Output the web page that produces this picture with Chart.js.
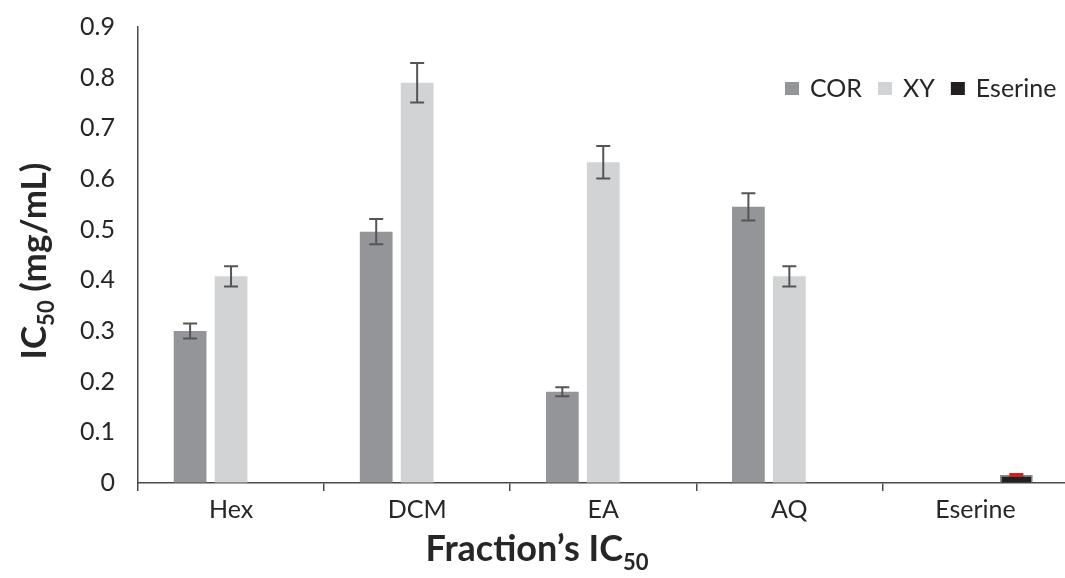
<!DOCTYPE html>
<html>
<head>
<meta charset="utf-8">
<script src="https://cdn.jsdelivr.net/npm/chart.js@4.4.1/dist/chart.umd.min.js"></script>
<style>
  html, body { margin: 0; padding: 0; background: #fff; overflow: hidden; }
  #wrap { width: 1070px; height: 578px; position: relative; }
</style>
</head>
<body>
<div id="wrap"><canvas id="ic50-chart"></canvas></div>
<script>
const categories = ['Hex', 'DCM', 'EA', 'AQ', 'Eserine'];
const corValues = [0.30, 0.496, 0.18, 0.545, null];
const xyValues = [0.408, 0.79, 0.633, 0.408, null];
const eserineValues = [null, null, null, null, 0.016];
const corErrors = [0.015, 0.025, 0.009, 0.027, null];
const xyErrors = [0.02, 0.039, 0.032, 0.02, null];
const eserineErrors = [null, null, null, null, 0.002];
const yTicks = [0, 0.1, 0.2, 0.3, 0.4, 0.5, 0.6, 0.7, 0.8, 0.9];

const textColor = '#262626';
const axisColor = '#4a4a4a';
const fontName = 'Lato, "Open Sans", sans-serif';

// error bars drawn from the dataset values through the y scale
const errorBars = {
    id: 'errorBars',
    afterDatasetsDraw(chart) {
        const ctx = chart.ctx;
        const y = chart.scales.y;
        chart.data.datasets.forEach((ds, i) => {
            const meta = chart.getDatasetMeta(i);
            meta.data.forEach((bar, j) => {
                const v = ds.data[j], e = ds.errors[j];
                if (v == null || e == null) return;
                const top = y.getPixelForValue(v + e);
                const bot = y.getPixelForValue(v - e);
                ctx.save();
                ctx.strokeStyle = ds.errorColor;
                ctx.lineWidth = 2;
                ctx.beginPath();
                ctx.moveTo(bar.x, top); ctx.lineTo(bar.x, bot);
                ctx.moveTo(bar.x - 7, top); ctx.lineTo(bar.x + 7, top);
                ctx.moveTo(bar.x - 7, bot); ctx.lineTo(bar.x + 7, bot);
                ctx.stroke();
                ctx.restore();
            });
        });
    }
};

// legend inside plot, top right
const legendInside = {
    id: 'legendInside',
    afterDraw(chart) {
        const ctx = chart.ctx;
        ctx.save();
        ctx.font = '25px ' + fontName;
        ctx.textBaseline = 'middle';
        let x = 785;
        const yMid = 89;
        chart.data.datasets.forEach(ds => {
            ctx.fillStyle = ds.backgroundColor;
            ctx.fillRect(x, yMid - 7, 14, 13);
            ctx.fillStyle = textColor;
            ctx.fillText(ds.label, x + 25, yMid);
            x += 25 + ctx.measureText(ds.label).width + 16;
        });
        ctx.restore();
    }
};

function measureSub(ctx, main, sub, size) {
    ctx.font = 'bold ' + size + 'px ' + fontName;
    const w1 = ctx.measureText(main).width;
    ctx.font = 'bold ' + Math.round(size * 0.62) + 'px ' + fontName;
    const w2 = ctx.measureText(sub).width;
    return { w1, w2 };
}

// axis titles with subscript "50"
const axisTitles = {
    id: 'axisTitles',
    afterDraw(chart) {
        const ctx = chart.ctx;
        ctx.save();
        ctx.fillStyle = textColor;
        ctx.textBaseline = 'alphabetic';
        ctx.textAlign = 'left';

        // x title
        let size = 36;
        let m = measureSub(ctx, 'Fraction\u2019s IC', '50', size);
        let x0 = 537 - (m.w1 + m.w2) / 2;
        ctx.font = 'bold ' + size + 'px ' + fontName;
        ctx.fillText('Fraction\u2019s IC', x0, 561);
        ctx.font = 'bold ' + Math.round(size * 0.62) + 'px ' + fontName;
        ctx.fillText('50', x0 + m.w1, 570);

        // y title (rotated)
        size = 35;
        ctx.translate(46, 261);
        ctx.rotate(-Math.PI / 2);
        m = measureSub(ctx, 'IC', '50', size);
        ctx.font = 'bold ' + size + 'px ' + fontName;
        const rest = ' (mg/mL)';
        const w3 = ctx.measureText(rest).width;
        x0 = -(m.w1 + m.w2 + w3) / 2;
        ctx.fillText('IC', x0, 0);
        ctx.font = 'bold ' + Math.round(size * 0.62) + 'px ' + fontName;
        ctx.fillText('50', x0 + m.w1, 8);
        ctx.font = 'bold ' + size + 'px ' + fontName;
        ctx.fillText(rest, x0 + m.w1 + m.w2, 0);
        ctx.restore();
    }
};

function makeChart() {
    const ctx = document.getElementById('ic50-chart').getContext('2d');
    new Chart(ctx, {
        type: 'bar',
        data: {
            labels: categories,
            datasets: [
                { label: 'COR', data: corValues, errors: corErrors, errorColor: '#555555',
                  backgroundColor: '#939598', borderWidth: 0 },
                { label: 'XY', data: xyValues, errors: xyErrors, errorColor: '#555555',
                  backgroundColor: '#d1d3d4', borderWidth: 0 },
                { label: 'Eserine', data: eserineValues, errors: eserineErrors, errorColor: '#cc2222',
                  backgroundColor: '#231f20', borderColor: '#8a8a8a', borderWidth: 1.5 }
            ]
        },
        options: {
            responsive: true,
            maintainAspectRatio: false,
            animation: false,
            categoryPercentage: 0.66,
            barPercentage: 0.8,
            layout: { padding: { top: 27, right: 1.5, left: 0, bottom: 0 } },
            plugins: {
                legend: { display: false },
                tooltip: { enabled: false }
            },
            scales: {
                x: {
                    offset: true,
                    grid: {
                        display: true,
                        offset: true,
                        drawOnChartArea: false,
                        drawTicks: true,
                        tickLength: 8,
                        color: axisColor,
                        lineWidth: 1.5
                    },
                    border: { display: true, color: axisColor, width: 1.5 },
                    ticks: { color: textColor, font: { family: fontName, size: 25 }, padding: 4 },
                    afterFit(s) { s.height = 95; }
                },
                y: {
                    min: 0,
                    max: 0.9,
                    afterBuildTicks(s) { s.ticks = yTicks.map(v => ({ value: v })); },
                    // invisible tick marks keep the labels off the axis line
                    grid: {
                        display: true,
                        drawOnChartArea: false,
                        drawTicks: true,
                        tickLength: 20,
                        color: 'rgba(0,0,0,0)'
                    },
                    border: { display: true, color: axisColor, width: 1.5 },
                    ticks: { color: textColor, font: { family: fontName, size: 25 }, padding: 3 },
                    afterFit(s) { s.width = 138; }
                }
            }
        },
        plugins: [errorBars, legendInside, axisTitles]
    });
}

if (document.fonts && document.fonts.load) {
    Promise.all([
        document.fonts.load('25px Lato'),
        document.fonts.load('bold 36px Lato')
    ]).then(makeChart, makeChart);
} else {
    makeChart();
}
</script>
</body>
</html>
